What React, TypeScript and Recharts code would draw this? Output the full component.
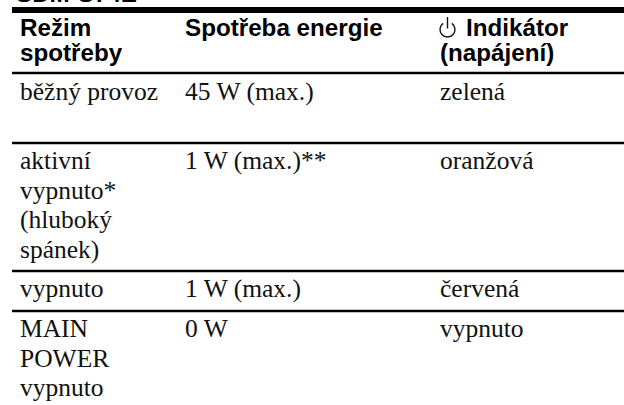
import React from "react";
import { ComposedChart, Scatter, XAxis, YAxis, ReferenceLine } from "recharts";

const clippedTitle = ["SDM-S74E"];
const modes = ["běžný provoz", "aktivní", "vypnuto*", "(hluboký", "spánek)", "vypnuto", "MAIN", "POWER", "vypnuto"];
const powers = ["45 W (max.)", "1 W (max.)**", "1 W (max.)", "0 W"];
const indicators = ["zelená", "oranžová", "červená", "vypnuto"];
const headerMode = ["Režim", "spotřeby"];
const headerPower = ["Spotřeba energie"];
const headerIndicator = ["Indikátor", "(napájení)"];

// layout of the page, in pixels
const W = 624;
const H = 405;
const modeY = [100, 169, 198.5, 228, 257.5, 297, 337, 366.5, 396];
const powerY = [100, 169, 297, 337];
const indicatorY = [100, 169, 297, 337];
const headerY = [36, 61];
const colX = [20, 185, 440];
const rules = [
  { y: 10, w: 6 },
  { y: 73, w: 2.4 },
  { y: 143, w: 2.4 },
  { y: 271, w: 2.4 },
  { y: 311, w: 2.4 },
];

const SANS = "'Liberation Sans', Arial, sans-serif";
const SERIF = "'Liberation Serif', 'Times New Roman', serif";
const BODY_SIZE = 25.5;
const HEAD_SIZE = 24.2;

const pts = (x: number, ys: number[], texts: string[]) =>
  texts.map((text, i) => ({ x, y: ys[i], text }));

const TextMark = (bold: boolean) => (p: any) => (
  <text
    x={p.cx}
    y={p.cy}
    fontFamily={bold ? SANS : SERIF}
    fontWeight={bold ? 700 : 400}
    fontSize={bold ? HEAD_SIZE : BODY_SIZE}
    fill={bold ? "#000" : "#111"}
  >
    {p.payload.text}
  </text>
);

const PowerIcon = (p: any) => {
  const r = 7.5;
  const cx = p.cx;
  const cy = p.cy;
  const a = (35 * Math.PI) / 180;
  const dx = r * Math.sin(a);
  const dy = r * Math.cos(a);
  return (
    <g fill="none" stroke="#111" strokeWidth={1.4}>
      <path d={`M ${cx - dx} ${cy - dy} A ${r} ${r} 0 1 0 ${cx + dx} ${cy - dy}`} />
      <path d={`M ${cx} ${cy - 12.5} V ${cy - 1}`} />
    </g>
  );
};

export default function App() {
  return (
    <div style={{ position: "absolute", left: 0, top: 0, width: W, height: H, background: "#fff", overflow: "hidden" }}>
      <ComposedChart width={W} height={H} margin={{ top: 0, right: 0, bottom: 0, left: 0 }} data={[]}>
        <XAxis type="number" dataKey="x" domain={[0, W]} hide />
        <YAxis type="number" dataKey="y" domain={[0, H]} reversed hide />
        {rules.map((l) => (
          <ReferenceLine key={l.y} stroke="#000" strokeWidth={l.w} segment={[{ x: 12, y: l.y }, { x: W, y: l.y }]} />
        ))}
        <Scatter isAnimationActive={false} data={pts(16, [2], clippedTitle)} shape={TextMark(true)} />
        <Scatter isAnimationActive={false} data={pts(colX[0], headerY, headerMode)} shape={TextMark(true)} />
        <Scatter isAnimationActive={false} data={pts(colX[1], headerY, headerPower)} shape={TextMark(true)} />
        <Scatter isAnimationActive={false} data={[{ x: colX[2] + 26, y: headerY[0], text: headerIndicator[0] }, { x: colX[2], y: headerY[1], text: headerIndicator[1] }]} shape={TextMark(true)} />
        <Scatter isAnimationActive={false} data={[{ x: 447.5, y: 29.5 }]} shape={PowerIcon} />
        <Scatter isAnimationActive={false} data={pts(colX[0], modeY, modes)} shape={TextMark(false)} />
        <Scatter isAnimationActive={false} data={pts(colX[1], powerY, powers)} shape={TextMark(false)} />
        <Scatter isAnimationActive={false} data={pts(colX[2], indicatorY, indicators)} shape={TextMark(false)} />
      </ComposedChart>
    </div>
  );
}
